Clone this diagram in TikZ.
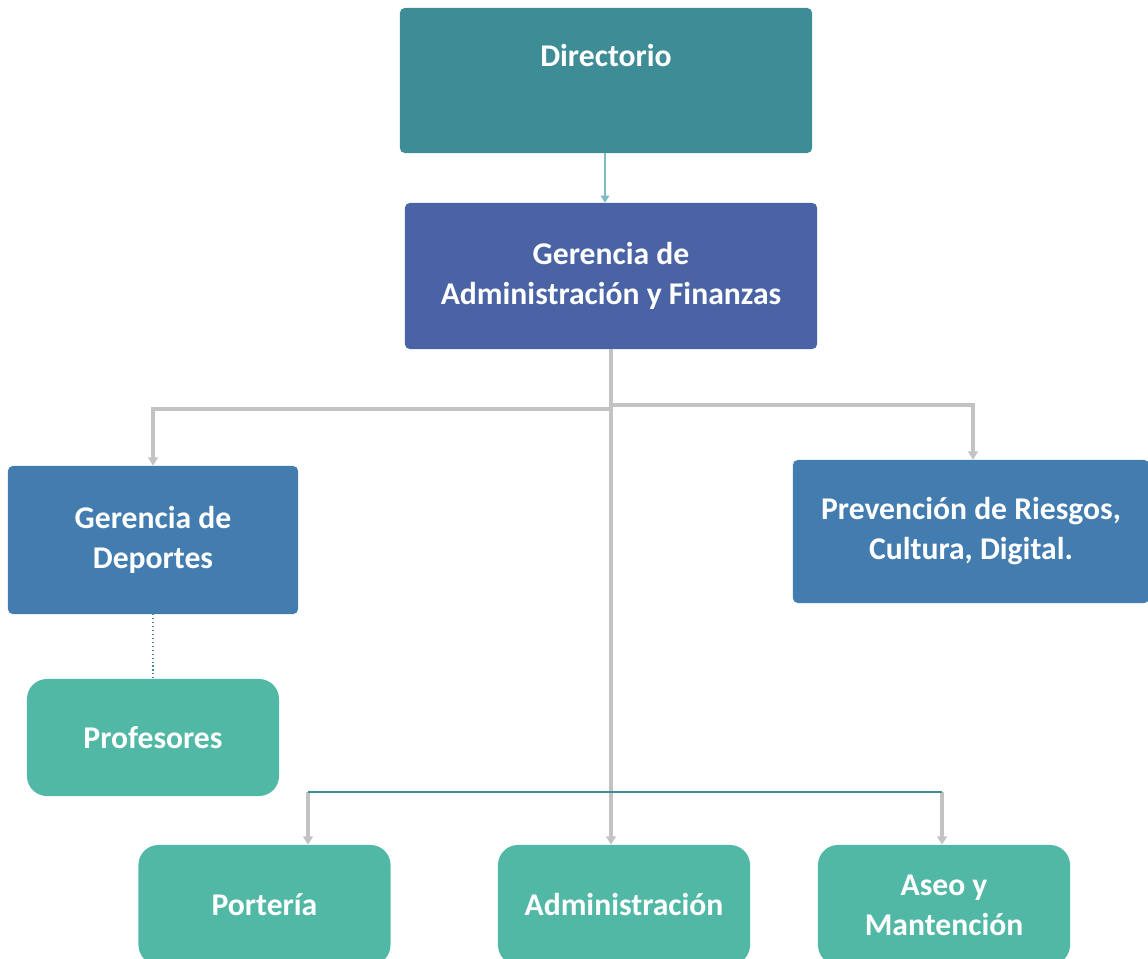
\documentclass[tikz,border=0pt]{standalone}
\usepackage{fontspec}
\setmainfont{Carlito}
\usepackage{tikz}
\usetikzlibrary{arrows.meta}
\definecolor{tealdir}{HTML}{3E8C96}
\definecolor{bluegaf}{HTML}{4A63A5}
\definecolor{bluedep}{HTML}{437DB0}
\definecolor{greenbox}{HTML}{52B8A6}
\definecolor{grayline}{HTML}{C3C3C3}
\definecolor{tealarrow}{HTML}{7DBCC4}

\begin{document}
\begin{tikzpicture}[x=0.025cm, y=-0.025cm,
    box/.style={rectangle, rounded corners=0.12cm, text=white, align=center,
        font=\bfseries\fontsize{22.5}{28.5}\selectfont, inner sep=0pt},
    greenbox/.style={box, fill=greenbox, rounded corners=0.5cm,
        minimum width=6.3cm, minimum height=3cm},
    link/.style={draw=grayline, line width=2.2pt},
    tip/.style={-{Triangle[width=7pt, length=6pt]}}]
    \useasboundingbox (0,0) rectangle (1148,958);

    % Cajas superiores
    \node[box, fill=tealdir, minimum width=10.3cm, minimum height=3.625cm,
        text height=0.5cm, text depth=1.2cm] (dir) at (606,80.5) {Directorio};
    \node[box, fill=bluegaf, minimum width=10.3cm, minimum height=3.65cm]
        (gaf) at (611,276) {Gerencia de\\Administración y Finanzas};

    % Cajas del medio
    \node[box, fill=bluedep, minimum width=7.25cm, minimum height=3.7cm]
        (dep) at (153,540) {Gerencia de\\Deportes};
    \node[box, fill=bluedep, minimum width=8.9cm, minimum height=3.575cm]
        (prev) at (971,531.5) {Prevención de Riesgos,\\Cultura, Digital.};
    \node[greenbox, minimum height=2.925cm] (prof) at (153,737.5) {Profesores};

    % Cajas inferiores
    \node[greenbox] (por) at (264.5,905) {Portería};
    \node[greenbox] (adm) at (624,905) {Administración};
    \node[greenbox] (aseo) at (944,905) {Aseo y\\Mantención};

    % Conectores
    \draw[tealarrow, line width=1.2pt, -{Triangle[width=6pt, length=5pt]}]
        (dir.south -| 605,0) -- (gaf.north -| 605,0);
    \draw[link, tip] (gaf.south) -- (gaf.south |- adm.north);
    \draw[link, tip] (gaf.south |- 0,409) -| (dep.north);
    \draw[link, tip] (gaf.south |- 0,405) -| (973,0 |- prev.north);
    \draw[tealdir!70!gray, line width=0.8pt, dotted] (dep.south) -- (prof.north);

    % Ramas hacia abajo
    \coordinate (bl) at (308,792);
    \coordinate (br) at (942,792);
    \draw[link, tip] (bl) -- (bl |- por.north);
    \draw[link, tip] (br) -- (br |- aseo.north);
    \draw[tealdir, line width=1pt] (bl) -- (br);
\end{tikzpicture}
\end{document}
